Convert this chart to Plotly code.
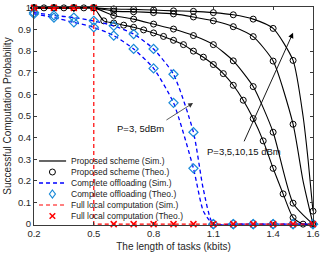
import plotly.graph_objects as go

# ---------------- data ----------------
x_fine = [0.2, 0.25, 0.3, 0.35, 0.4, 0.45, 0.5, 0.55, 0.6, 0.65, 0.7, 0.75, 0.8, 0.85,
          0.9, 0.95, 1.0, 1.05, 1.1, 1.15, 1.2, 1.25, 1.3, 1.35, 1.4, 1.45, 1.5, 1.55, 1.6]
x_coarse = [0.2, 0.3, 0.4, 0.5, 0.6, 0.7, 0.8, 0.9, 1.0, 1.1, 1.2, 1.3, 1.4, 1.5, 1.6]

# Proposed scheme (theory markers)
prop_p3 = [1, 1, 1, 1, 1, 1, 1, 0.94, 0.93, 0.92, 0.91, 0.898, 0.884, 0.868,
           0.85, 0.83, 0.80, 0.772, 0.738, 0.696, 0.642, 0.573, 0.488, 0.385, 0.258, 0.14, 0.03, 0, 0]
prop_p5 = [1, 1, 1, 1, 0.965, 0.948, 0.925, 0.902, 0.872, 0.83, 0.755, 0.636, 0.425, 0.097, 0]
prop_p10 = [1, 1, 1, 1, 0.985, 0.982, 0.978, 0.972, 0.958, 0.94, 0.913, 0.867, 0.754, 0.462, 0]
prop_p15 = [1, 1, 1, 1, 0.995, 0.993, 0.99, 0.986, 0.984, 0.978, 0.968, 0.948, 0.905, 0.757, 0.06]

# Proposed scheme (simulation lines) - extra points read near the steep drop
sim_x_p10 = [0.2, 0.3, 0.4, 0.5, 0.6, 0.7, 0.8, 0.9, 1.0, 1.1, 1.2, 1.3, 1.4, 1.5, 1.55, 1.6]
sim_p10 = [1, 1, 1, 1, 0.985, 0.982, 0.978, 0.972, 0.958, 0.94, 0.913, 0.867, 0.754, 0.462, 0.2, 0]
sim_x_p15 = [0.2, 0.3, 0.4, 0.5, 0.6, 0.7, 0.8, 0.9, 1.0, 1.1, 1.2, 1.3, 1.4, 1.5, 1.55, 1.575, 1.6]
sim_p15 = [1, 1, 1, 1, 0.995, 0.993, 0.99, 0.986, 0.984, 0.978, 0.968, 0.948, 0.905, 0.757, 0.5, 0.3, 0.06]

# Complete offloading
off_hi = [0.978, 0.965, 0.955, 0.94, 0.917, 0.879, 0.81, 0.693, 0.425, 0, 0, 0, 0, 0, 0]
off_lo = [0.972, 0.955, 0.933, 0.91, 0.872, 0.81, 0.72, 0.561, 0.258, 0, 0, 0, 0, 0, 0]
sim_x_off = [0.2, 0.3, 0.4, 0.5, 0.6, 0.7, 0.8, 0.9, 1.0, 1.05, 1.1, 1.2, 1.3, 1.4, 1.5, 1.6]
sim_off_hi = [0.978, 0.965, 0.955, 0.94, 0.917, 0.879, 0.81, 0.693, 0.425, 0.16, 0, 0, 0, 0, 0, 0]
sim_off_lo = [0.972, 0.955, 0.933, 0.91, 0.872, 0.81, 0.72, 0.561, 0.258, 0.06, 0, 0, 0, 0, 0, 0]

# Full local computation
local = [1, 1, 1, 1, 0, 0, 0, 0, 0, 0, 0, 0, 0, 0, 0]

x_tickvals = [0.2, 0.5, 0.8, 1.1, 1.4, 1.6]
x_ticktext = ["0.2", "0.5", "0.8", "1.1", "1.4", "1.6"]
y_tickvals = [0, 0.1, 0.2, 0.3, 0.4, 0.5, 0.6, 0.7, 0.8, 0.9, 1]
y_ticktext = ["0", "0.1", "0.2", "0.3", "0.4", "0.5", "0.6", "0.7", "0.8", "0.9", "1"]

legend_labels = ["Proposed scheme (Sim.)", "Proposed scheme (Theo.)",
                 "Complete offloading (Sim.)", "Complete offloading (Theo.)",
                 "Full local computation (Sim.)", "Full local computation (Theo.)"]

# ---------------- styles ----------------
FONT = "Liberation Sans, Arial, sans-serif"
BLACK = "#000000"
BLUE = "#0000ff"
DIAM = "#1a8ad8"
RED = "#ff0000"
DASH = "4px,3px"

fig = go.Figure()

# proposed scheme sim lines
for xs, ys in [(x_fine, prop_p3), (x_coarse, prop_p5), (sim_x_p10, sim_p10), (sim_x_p15, sim_p15)]:
    fig.add_trace(go.Scatter(x=xs, y=ys, mode="lines", line=dict(color=BLACK, width=1.1, shape="spline", smoothing=0.6),
                             showlegend=False, hoverinfo="skip"))
# proposed scheme theory markers
for xs, ys in [(x_fine, prop_p3), (x_coarse, prop_p5), (x_coarse, prop_p10), (x_coarse, prop_p15)]:
    fig.add_trace(go.Scatter(x=xs, y=ys, mode="markers",
                             marker=dict(symbol="circle-open", size=6, color=BLACK, line=dict(width=1)),
                             cliponaxis=False, showlegend=False))
# complete offloading
for ys in [sim_off_hi, sim_off_lo]:
    fig.add_trace(go.Scatter(x=sim_x_off, y=ys, mode="lines",
                             line=dict(color=BLUE, width=1.3, dash=DASH, shape="spline", smoothing=0.6),
                             showlegend=False))
for ys in [off_hi, off_lo]:
    fig.add_trace(go.Scatter(x=x_coarse, y=ys, mode="markers",
                             marker=dict(symbol="diamond-open", size=7, color=DIAM, line=dict(width=1.2)),
                             cliponaxis=False, showlegend=False))
# full local
fig.add_trace(go.Scatter(x=x_coarse, y=local, mode="lines",
                         line=dict(color=RED, width=1.2, dash=DASH, shape="vh"), showlegend=False))
fig.add_trace(go.Scatter(x=x_coarse, y=local, mode="markers",
                         marker=dict(symbol="x-thin-open", size=6, color=RED, line=dict(width=1.5, color=RED)),
                         cliponaxis=False, showlegend=False))

# ---------------- custom legend (paper coords) ----------------
leg_y = [0.2936, 0.2431, 0.1927, 0.1422, 0.0917, 0.0413]
lx0, lx1, lxm, ltx = 0.018, 0.115, 0.066, 0.125
shapes = []
shapes.append(dict(type="line", xref="paper", yref="paper", x0=lx0, x1=lx1, y0=leg_y[0], y1=leg_y[0],
                   line=dict(color=BLACK, width=1.2)))
shapes.append(dict(type="circle", xref="paper", yref="paper", xsizemode="pixel", ysizemode="pixel",
                   xanchor=lxm, yanchor=leg_y[1], x0=-3, x1=3, y0=-3, y1=3, line=dict(color=BLACK, width=1)))
shapes.append(dict(type="line", xref="paper", yref="paper", x0=lx0, x1=lx1, y0=leg_y[2], y1=leg_y[2],
                   line=dict(color=BLUE, width=1.3, dash=DASH)))
shapes.append(dict(type="path", xref="paper", yref="paper", xsizemode="pixel", ysizemode="pixel",
                   xanchor=lxm, yanchor=leg_y[3], path="M0,4L3,0L0,-4L-3,0Z", line=dict(color=DIAM, width=1.2)))
shapes.append(dict(type="line", xref="paper", yref="paper", x0=lx0, x1=lx1, y0=leg_y[4], y1=leg_y[4],
                   line=dict(color=RED, width=1.2, dash=DASH)))
shapes.append(dict(type="path", xref="paper", yref="paper", xsizemode="pixel", ysizemode="pixel",
                   xanchor=lxm, yanchor=leg_y[5], path="M-2.8,-2.8L2.8,2.8M-2.8,2.8L2.8,-2.8",
                   line=dict(color=RED, width=1.5)))

annotations = []
for lab, yy in zip(legend_labels, leg_y):
    annotations.append(dict(x=ltx, y=yy, xref="paper", yref="paper", text=lab, showarrow=False,
                            xanchor="left", yanchor="middle", font=dict(family=FONT, size=8.5, color="#222")))

# arrows + labels
annotations.append(dict(x=0.998, y=0.56, ax=0.857, ay=0.477, xref="x", yref="y", axref="x", ayref="y",
                        text="", showarrow=True, arrowhead=2, arrowsize=1.2, arrowwidth=0.8, arrowcolor="#333"))
annotations.append(dict(x=0.862, y=0.44, xref="x", yref="y", text="P=3, 5dBm", showarrow=False,
                        xanchor="right", yanchor="middle", font=dict(family=FONT, size=9.5, color="#111")))
annotations.append(dict(x=1.5, y=0.885, ax=1.251, ay=0.376, xref="x", yref="y", axref="x", ayref="y",
                        text="", showarrow=True, arrowhead=2, arrowsize=1.2, arrowwidth=0.9, arrowcolor="#000"))
annotations.append(dict(x=1.254, y=0.335, xref="x", yref="y", text="P=3,5,10,15 dBm", showarrow=False,
                        xanchor="center", yanchor="middle", font=dict(family=FONT, size=9.5, color="#111")))

axis_common = dict(showline=True, mirror="ticks", linecolor="#3a3a3a", linewidth=1, ticks="inside",
                   ticklen=3, tickwidth=0.8, tickcolor="#3a3a3a", showgrid=False, zeroline=False,
                   automargin=False, tickfont=dict(family=FONT, size=9.5, color="#262626"))

fig.update_layout(
    width=322, height=257, autosize=False,
    margin=dict(l=34, r=9, t=7, b=32, autoexpand=False),
    paper_bgcolor="white", plot_bgcolor="white",
    shapes=shapes, annotations=annotations, showlegend=False,
    xaxis=dict(range=[0.2, 1.6], tickvals=x_tickvals, ticktext=x_ticktext,
               title=dict(text="The length of tasks (kbits)", font=dict(family=FONT, size=10, color="#262626"),
                          standoff=4), **axis_common),
    yaxis=dict(range=[-0.004, 1.004], tickvals=y_tickvals, ticktext=y_ticktext,
               title=dict(text="Successful Computation Probability", font=dict(family=FONT, size=10, color="#262626"),
                          standoff=4), **axis_common),
)

fig.write_html("out.html", config={"displayModeBar": False},
               post_script="document.body.style.margin='0';document.body.style.overflow='hidden';")
